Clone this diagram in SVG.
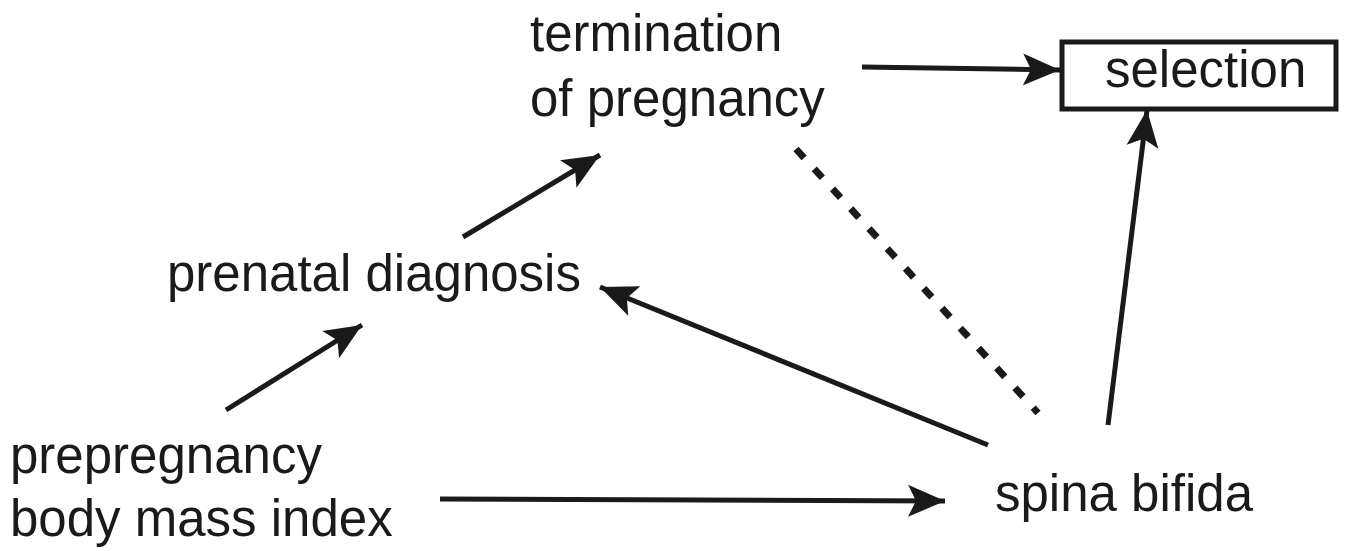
<svg xmlns="http://www.w3.org/2000/svg" width="1347" height="551" viewBox="0 0 1347 551">
<style>
  text { font-family: "Liberation Sans", Arial, sans-serif; font-size: 51px; fill: #1a1a1a; }
  .edge { stroke: #1a1a1a; stroke-width: 5; fill: none; }
  .dash { stroke: #1a1a1a; stroke-width: 7; fill: none; stroke-dasharray: 12 15; }
</style>
<defs>
  <marker id="arr" markerUnits="userSpaceOnUse" markerWidth="40" markerHeight="34" viewBox="0 0 40 34" refX="37" refY="17" orient="auto">
    <path d="M0,1 L37,17 L0,33 L8,17 Z" fill="#1a1a1a"/>
  </marker>
</defs>
<rect width="1347" height="551" fill="#ffffff"/>
<g id="connectors">
  <line class="edge" x1="862" y1="67" x2="1060" y2="70" marker-end="url(#arr)"/>
  <line class="edge" x1="1108" y1="425" x2="1147" y2="110" marker-end="url(#arr)"/>
  <line class="edge" x1="463" y1="237" x2="600" y2="155" marker-end="url(#arr)"/>
  <line class="edge" x1="226" y1="410" x2="362" y2="325" marker-end="url(#arr)"/>
  <line class="edge" x1="988" y1="445" x2="600" y2="287" marker-end="url(#arr)"/>
  <line class="edge" x1="440" y1="499" x2="945" y2="501" marker-end="url(#arr)"/>
  <line class="dash" x1="796" y1="149" x2="1038" y2="413"/>
</g>
<g id="selection">
  <rect x="1062" y="42" width="274" height="67" fill="#ffffff" stroke="#1a1a1a" stroke-width="5"/>
  <text x="1105" y="87">selection</text>
</g>
<g id="termination">
  <text x="530" y="51">termination</text>
  <text x="530" y="116">of pregnancy</text>
</g>
<g id="prenatal">
  <text x="167" y="291">prenatal diagnosis</text>
</g>
<g id="prepregnancy">
  <text x="10" y="473">prepregnancy</text>
  <text x="10" y="536">body mass index</text>
</g>
<g id="spina">
  <text x="995" y="511">spina bifida</text>
</g>
</svg>
